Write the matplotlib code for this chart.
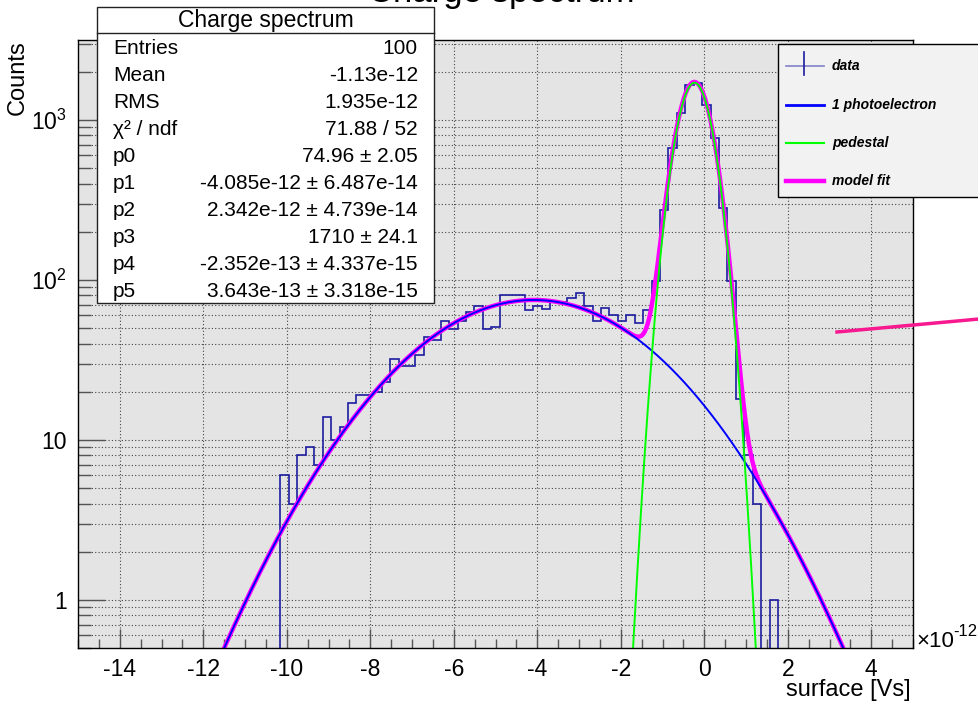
import numpy as np
import matplotlib.pyplot as plt
from matplotlib.patches import Rectangle
from matplotlib.lines import Line2D
from matplotlib.ticker import LogLocator, NullFormatter, FixedLocator

plt.rcParams['font.family'] = ['Liberation Sans', 'DejaVu Sans']
plt.rcParams['axes.unicode_minus'] = False

# charge histogram: 100 bins over [-15.2, 5.0] x 1e-12 Vs
nbins = 100
xlow, xhigh = -15.2, 5.0
counts = ([0] * 25 +
          [6, 4, 8, 9, 7, 14, 10, 12, 17, 19,
           19, 20, 23, 32, 29, 29, 34, 44, 42, 55,
           49, 55, 63, 69, 49, 51, 80, 80, 80, 65,
           69, 66, 73, 73, 77, 83, 69, 55, 67, 60,
           55, 60, 54, 65, 98, 274, 665, 1111, 1655, 1695,
           1241, 768, 281, 98, 18, 8, 4, 0, 1] +
          [0] * 16)

# fit parameters and errors (gaus 1 pe + gaus pedestal)
par_names = ["p0", "p1", "p2", "p3", "p4", "p5"]
par_vals = [74.96, -4.085e-12, 2.342e-12, 1710, -2.352e-13, 3.643e-13]
par_errs = [2.05, 6.487e-14, 4.739e-14, 24.1, 4.337e-15, 3.318e-15]
entries = 100
mean = -1.13e-12
rms = 1.935e-12
chi2, ndf = 71.88, 52

legend_labels = ["data", "1 photoelectron", "pedestal", "model fit"]

W, H = 979, 704


def fx(px):
    return px / W


def fy(py):
    return 1 - py / H


def gaus(x, a, m, s):
    return a * np.exp(-0.5 * ((x - m) / s) ** 2)


fig = plt.figure(figsize=(W / 100, H / 100), dpi=100)
ax = fig.add_axes([fx(78), fy(648), (913 - 78) / W, (648 - 40) / H])
ax.set_facecolor('#e4e4e4')
ax.set_yscale('log')
ax.set_xlim(-15, 5)
ax.set_ylim(0.5, 3162)

# histogram outline, empty bins drop below the frame
edges = np.linspace(xlow, xhigh, nbins + 1)
vals = np.array(counts, dtype=float)
vals[vals <= 0] = 1e-3
ax.stairs(vals, edges, baseline=None, color='#1c1ca0', lw=1.2, zorder=2)

# fit functions
xs = np.linspace(-15, 5, 2000)
xs_si = xs * 1e-12
pe = gaus(xs_si, par_vals[0], par_vals[1], par_vals[2])
ped = gaus(xs_si, par_vals[3], par_vals[4], par_vals[5])
ax.plot(xs, pe + ped, color='#ff00ff', lw=3.2, zorder=3)
ax.plot(xs, pe, color='#0000ff', lw=1.4, zorder=4)
ax.plot(xs, ped, color='#00ff00', lw=1.4, zorder=4)

# axes ticks and grid
ax.set_xticks(np.arange(-14, 5, 2))
ax.set_xticks(np.arange(-15, 5.01, 0.5), minor=True)
ax.yaxis.set_major_locator(FixedLocator([1, 10, 100, 1000]))
ax.set_yticklabels(['1', '10', r'$\mathregular{10^{2}}$', r'$\mathregular{10^{3}}$'])
ax.yaxis.set_minor_locator(LogLocator(base=10, subs=np.arange(2, 10)))
ax.yaxis.set_minor_formatter(NullFormatter())
ax.tick_params(axis='both', which='both', direction='in', colors='#555555',
               labelcolor='black', labelsize=16.5, width=1)
ax.tick_params(axis='x', which='major', length=13.7, pad=7)
ax.tick_params(axis='x', which='minor', length=6.5)
ax.tick_params(axis='y', which='major', length=19.4, pad=8)
ax.tick_params(axis='y', which='minor', length=9.4)
ax.grid(True, axis='x', which='major', ls=(0, (1, 2)), color='#444444', lw=0.8)
ax.grid(True, axis='y', which='both', ls=(0, (1, 2)), color='#444444', lw=0.8)
ax.set_axisbelow(True)
for sp in ax.spines.values():
    sp.set_linewidth(1.0)
    sp.set_zorder(5)

fig.text(fx(911), fy(690), 'surface [Vs]', ha='right', va='center', fontsize=17)
fig.text(fx(18), fy(40), 'Counts', ha='center', va='top', rotation=90, fontsize=17)
fig.text(fx(916), fy(647), '×10', ha='left', va='baseline', fontsize=16)
fig.text(fx(953), fy(636), '-12', ha='left', va='baseline', fontsize=12)

# title, partly covered by the stats box
fig.text(fx(501), fy(2), 'Charge spectrum', ha='center', va='baseline',
         fontsize=25, zorder=1)

# stats box
fig.patches.append(Rectangle((fx(97), fy(303)), (434 - 97) / W, (303 - 7) / H,
                             transform=fig.transFigure, fc='white', ec='#222222',
                             lw=1, zorder=5))
fig.lines.append(Line2D([fx(97), fx(434)], [fy(33), fy(33)],
                        transform=fig.transFigure, color='#222222', lw=1, zorder=6))
fig.text(fx(265.5), fy(20), 'Charge spectrum', ha='center', va='center',
         fontsize=16.5, zorder=7)

rows = [("Entries", f"{entries}"),
        ("Mean", f"{mean:.4g}"),
        ("RMS", f"{rms:.4g}"),
        ("χ² / ndf", f"{chi2:.4g} / {ndf}")]
for n, v, e in zip(par_names, par_vals, par_errs):
    rows.append((n, f"{v:.4g} ± {e:.4g}"))
for i, (lab, val) in enumerate(rows):
    y = fy(48 + 27.1 * i)
    fig.text(fx(113), y, lab, ha='left', va='center', fontsize=15, zorder=7)
    fig.text(fx(418), y, val, ha='right', va='center', fontsize=15, zorder=7)

# legend
fig.patches.append(Rectangle((fx(778), fy(197)), 0.3, (197 - 44) / H,
                             transform=fig.transFigure, fc='#f2f2f2', ec='black',
                             lw=1, zorder=5))
leg_y = [66, 105, 143, 181]
leg_style = [dict(color='#8080c8', lw=1.2),
             dict(color='#0000ff', lw=2),
             dict(color='#00ff00', lw=1.5),
             dict(color='#ff00ff', lw=3.2)]
for yy, lab, st in zip(leg_y, legend_labels, leg_style):
    fig.lines.append(Line2D([fx(786), fx(824)], [fy(yy), fy(yy)],
                            transform=fig.transFigure, zorder=6, **st))
    fig.text(fx(832), fy(yy), lab, ha='left', va='center', fontsize=10,
             fontweight='bold', fontstyle='italic', zorder=7)
fig.lines.append(Line2D([fx(804), fx(804)], [fy(52), fy(75)],
                        transform=fig.transFigure, color='#1c1ca0', lw=1.2, zorder=6))

# stray fit segment leaving the frame
fig.lines.append(Line2D([fx(837), fx(990)], [fy(332), fy(318)],
                        transform=fig.transFigure, color='#f81890', lw=2.5, zorder=6))

fig.savefig('out.png', dpi=100)
